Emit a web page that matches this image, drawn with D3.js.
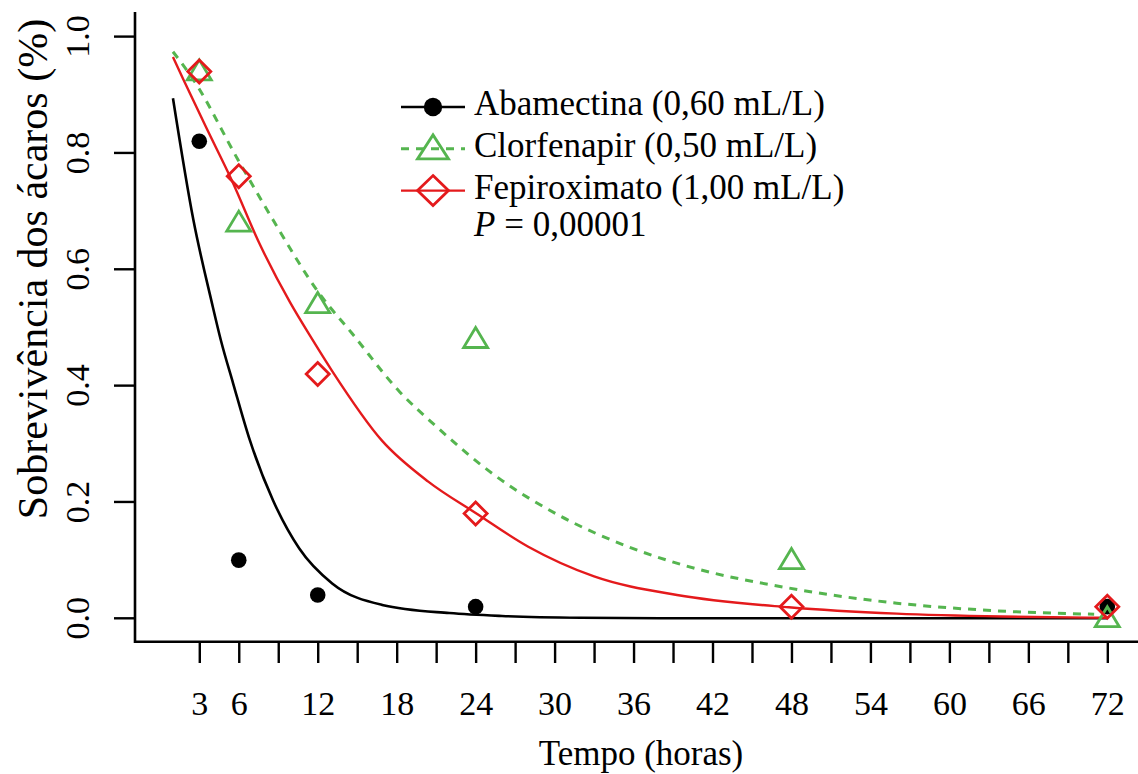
<!DOCTYPE html>
<html>
<head>
<meta charset="utf-8">
<script src="https://cdn.jsdelivr.net/npm/d3@7"></script>
<style>
  body { margin: 0; background: #fff; }
</style>
</head>
<body>
<script>
// observed survival (proportion) at each sampling time
var hours = [3, 6, 12, 24, 48, 72];
var abamectinaObs = [0.82, 0.10, 0.04, 0.02, null, 0.02];
var clorfenapirObs = [0.94, 0.68, 0.54, 0.48, 0.10, 0.00];
var fepiroximatoObs = [0.94, 0.76, 0.42, 0.18, 0.02, 0.02];

// fitted curves
var abamectinaFitT = [1, 2.55, 3.94, 4.64, 5.57, 6.83, 8.6, 10.6, 13.1, 16.9, 22, 26, 32, 40, 72];
var abamectinaFitV = [0.894, 0.685, 0.544, 0.478, 0.404, 0.307, 0.203, 0.12, 0.06, 0.023, 0.009, 0.004, 0.001, 0, 0];
var clorfenapirFitT = [1, 2.55, 5.95, 8.6, 12.1, 14.6, 18.2, 21, 25.5, 30.5, 35.6, 40, 47.8, 56, 63.5, 71];
var clorfenapirFitV = [0.974, 0.926, 0.788, 0.685, 0.559, 0.49, 0.39, 0.33, 0.245, 0.175, 0.123, 0.09, 0.052, 0.026, 0.013, 0.007];
var fepiroximatoFitT = [1, 1.8, 3.5, 5.45, 7.6, 9.9, 11.6, 13.1, 16.9, 20.4, 24, 28, 33, 39.3, 47.8, 56, 64, 72];
var fepiroximatoFitV = [0.965, 0.926, 0.845, 0.754, 0.643, 0.543, 0.479, 0.425, 0.305, 0.235, 0.181, 0.123, 0.072, 0.040, 0.019, 0.008, 0.003, 0.001];

var xTicks = d3.range(3, 73, 3);
var xLabels = [3, 6, 12, 18, 24, 30, 36, 42, 48, 54, 60, 66, 72];
var yTicks = [0, 0.2, 0.4, 0.6, 0.8, 1.0];

var legendLabels = ["Abamectina (0,60 mL/L)", "Clorfenapir (0,50 mL/L)", "Fepiroximato (1,00 mL/L)"];
var pValue = "0,00001";

var black = "#000000", green = "#55B54F", red = "#E41A1C";
var serif = "'Liberation Serif', 'Times New Roman', Times, 'DejaVu Serif', serif";

var width = 1138, height = 774;

var svg = d3.select("body")
    .append("svg")
    .attr("width", width)
    .attr("height", height)
    .style("font-family", serif);

var x = d3.scaleLinear()
    .domain([0, 72])
    .range([159.8, 1107.3]);

var y = d3.scaleLinear()
    .domain([0, 1])
    .range([618.3, 36.6]);

//L shaped frame
svg.append("path")
    .attr("d", "M135,12V641.7H" + width)
    .attr("fill", "none")
    .attr("stroke", "#000")
    .attr("stroke-width", 2.6);

//x axis, ticks hang a little below the frame
var xAxis = svg.append("g")
    .attr("transform", "translate(0,643)")
    .call(d3.axisBottom(x).tickValues(xTicks).tickSize(20).tickSizeOuter(0)
        .tickFormat(function(d){ return xLabels.indexOf(d) >= 0 ? d : ""; }));
xAxis.attr("font-family", null).attr("font-size", null);
xAxis.select(".domain").remove();
xAxis.selectAll("line").attr("stroke", "#000").attr("stroke-width", 2.4);
xAxis.selectAll("text")
    .attr("y", 72)
    .attr("dy", 0)
    .style("font-size", "34px")
    .style("font-family", serif)
    .attr("fill", "#000");

//y axis
var yAxis = svg.append("g")
    .attr("transform", "translate(135,0)")
    .call(d3.axisLeft(y).tickValues(yTicks).tickSize(21).tickSizeOuter(0)
        .tickFormat(d3.format(".1f")));
yAxis.attr("font-family", null).attr("font-size", null);
yAxis.select(".domain").remove();
yAxis.selectAll(".tick").attr("transform", null);
yAxis.selectAll(".tick line")
    .attr("stroke", "#000")
    .attr("stroke-width", 2.4)
    .attr("y1", function(d){ return y(d); })
    .attr("y2", function(d){ return y(d); });
yAxis.selectAll("text")
    .attr("x", 0)
    .attr("y", 0)
    .attr("dy", 0)
    .attr("text-anchor", "middle")
    .attr("transform", function(d){ return "translate(-46," + y(d) + ") rotate(-90)"; })
    .style("font-size", "34px")
    .style("font-family", serif)
    .attr("fill", "#000");

//axis titles
svg.append("text")
    .attr("x", 641)
    .attr("y", 765)
    .attr("text-anchor", "middle")
    .style("font-size", "35px")
    .style("font-family", serif)
    .text("Tempo (horas)");

svg.append("text")
    .attr("transform", "translate(47,269) rotate(-90)")
    .attr("text-anchor", "middle")
    .style("font-size", "42px")
    .style("font-family", serif)
    .text("Sobrevivência dos ácaros (%)");

//fitted curves
var line = d3.line()
    .x(function(d){ return x(d[0]); })
    .y(function(d){ return y(d[1]); })
    .curve(d3.curveMonotoneX);

var fits = [
    {t: abamectinaFitT, v: abamectinaFitV, color: black, dash: null, w: 2.6},
    {t: clorfenapirFitT, v: clorfenapirFitV, color: green, dash: "8,7", w: 3},
    {t: fepiroximatoFitT, v: fepiroximatoFitV, color: red, dash: null, w: 2.4}
];

fits.forEach(function(f){
    svg.append("path")
        .datum(d3.zip(f.t, f.v))
        .attr("fill", "none")
        .attr("stroke", f.color)
        .attr("stroke-width", f.w)
        .attr("stroke-dasharray", f.dash)
        .attr("d", line);
});

//marker shapes
function trianglePath(w, h){
    return "M0," + (-h * 0.58) + "L" + (w / 2) + "," + (h * 0.42) + "L" + (-w / 2) + "," + (h * 0.42) + "Z";
}
function diamondPath(rx, ry){
    return "M0," + (-ry) + "L" + rx + ",0L0," + ry + "L" + (-rx) + ",0Z";
}

var obs = function(vals){
    return hours.map(function(h, i){ return [h, vals[i]]; })
        .filter(function(d){ return d[1] !== null; });
};

svg.selectAll(".abam")
    .data(obs(abamectinaObs))
    .enter()
    .append("circle")
    .attr("class", "abam")
    .attr("cx", function(d){ return x(d[0]); })
    .attr("cy", function(d){ return y(d[1]); })
    .attr("r", 7.8)
    .attr("fill", black);

svg.selectAll(".clor")
    .data(obs(clorfenapirObs))
    .enter()
    .append("path")
    .attr("class", "clor")
    .attr("transform", function(d){ return "translate(" + x(d[0]) + "," + y(d[1]) + ")"; })
    .attr("d", trianglePath(24, 20))
    .attr("fill", "none")
    .attr("stroke", green)
    .attr("stroke-width", 2.8);

svg.selectAll(".fepi")
    .data(obs(fepiroximatoObs))
    .enter()
    .append("path")
    .attr("class", "fepi")
    .attr("transform", function(d){ return "translate(" + x(d[0]) + "," + y(d[1]) + ")"; })
    .attr("d", diamondPath(11.5, 11.5))
    .attr("fill", "none")
    .attr("stroke", red)
    .attr("stroke-width", 2.8);

//legend
var legend = svg.append("g");
var rowY = function(i){ return 107 + i * 41.8; };
var legendColors = [black, green, red];
var legendDash = [null, "8,7", null];

legendLabels.forEach(function(lab, i){
    legend.append("line")
        .attr("x1", 401).attr("x2", 465)
        .attr("y1", rowY(i)).attr("y2", rowY(i))
        .attr("stroke", legendColors[i])
        .attr("stroke-width", i == 1 ? 3 : 2.4)
        .attr("stroke-dasharray", legendDash[i]);
    legend.append("text")
        .attr("x", 474)
        .attr("y", rowY(i) + 8)
        .style("font-size", "35px")
        .style("font-family", serif)
        .text(lab);
});

legend.append("circle")
    .attr("cx", 433).attr("cy", rowY(0))
    .attr("r", 9.2)
    .attr("fill", black);
legend.append("path")
    .attr("transform", "translate(433," + rowY(1) + ")")
    .attr("d", trianglePath(31, 24))
    .attr("fill", "none")
    .attr("stroke", green)
    .attr("stroke-width", 2.8);
legend.append("path")
    .attr("transform", "translate(433," + rowY(2) + ")")
    .attr("d", diamondPath(15.5, 15))
    .attr("fill", "none")
    .attr("stroke", red)
    .attr("stroke-width", 2.8);

var pText = legend.append("text")
    .attr("x", 474)
    .attr("y", rowY(3) + 4)
    .style("font-size", "35px")
    .style("font-family", serif);
pText.append("tspan").style("font-style", "italic").text("P");
pText.append("tspan").text(" = " + pValue);
</script>
</body>
</html>
